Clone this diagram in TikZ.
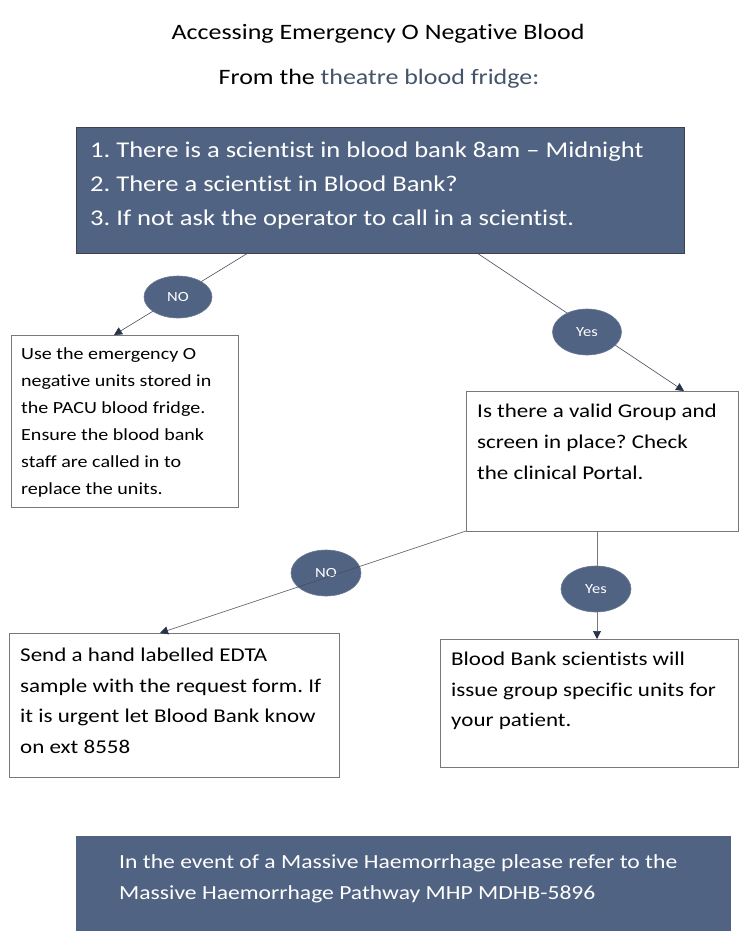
\documentclass[tikz,border=0pt]{standalone}
\usepackage{fontspec}
\setmainfont{Carlito}[FakeStretch=1.18, Ligatures={NoCommon}]
\usetikzlibrary{arrows.meta,shapes.geometric}
\frenchspacing
\definecolor{boxblue}{RGB}{81,99,130}
\definecolor{boxedge}{RGB}{60,66,78}
\definecolor{slatetext}{RGB}{68,84,106}
\definecolor{linecol}{RGB}{70,78,92}
\definecolor{tipcol}{RGB}{40,52,75}
\definecolor{grayedge}{RGB}{120,120,120}
\tikzset{
  darkbox/.style={draw=boxedge, line width=0.8pt, fill=boxblue, anchor=north west, inner sep=0pt},
  whitebox/.style={draw=grayedge, line width=0.7pt, fill=white, anchor=north west, inner sep=0pt},
  bodytext/.style={anchor=north west, align=left, inner sep=0pt},
  badge/.style={ellipse, fill=boxblue, draw=boxblue!85!white, line width=0.6pt, text=white, inner sep=0pt, font=\fontsize{14}{16}\selectfont},
  conn/.style={draw=linecol, line width=0.6pt, -{Triangle[width=8pt,length=8pt,fill=tipcol,color=tipcol]}},
}
\begin{document}
\frenchspacing
\begin{tikzpicture}[x=1pt,y=-1pt]
\useasboundingbox (0,0) rectangle (750,940);
\fill[white] (0,0) rectangle (750,940);

% titles
\node[font=\fontsize{22}{26}\selectfont] (title) at (378,34) {Accessing Emergency O Negative Blood};
\node[font=\fontsize{22}{26}\selectfont] (sub) at (379,79) {From the \textcolor{slatetext}{theatre blood fridge:}};

% top box
\node[darkbox, minimum width=608, minimum height=126] (top) at (76,127) {};
\node[bodytext, text=white, font=\fontsize{22.5}{34}\selectfont] (toptxt) at (90,142)
  {1. There is a scientist in blood bank 8am – Midnight\\
   2. There a scientist in Blood Bank?\\
   3. If not ask the operator to call in a scientist.};
\coordinate (topL) at (248,253);
\coordinate (topR) at (477,253);

% box 1
\node[whitebox, minimum width=227, minimum height=172] (b1) at (11,335) {};
\node[bodytext, font=\fontsize{17}{27}\selectfont] (b1txt) at (21,347)
  {Use the emergency O\\negative units stored in\\the PACU blood fridge.\\Ensure the blood bank\\staff are called in to\\replace the units.};

% box 2
\node[whitebox, minimum width=272, minimum height=140] (b2) at (466,391) {};
\node[bodytext, font=\fontsize{19.5}{31}\selectfont] (b2txt) at (477,404)
  {Is there a valid Group and\\screen in place? Check\\the clinical Portal.};
\coordinate (b2L) at (466,531);
\coordinate (b2M) at (597,531);

% box 3
\node[whitebox, minimum width=330, minimum height=144] (b3) at (9,633) {};
\node[bodytext, font=\fontsize{19.5}{30.5}\selectfont] (b3txt) at (20,648)
  {Send a hand labelled EDTA\\sample with the request form. If\\it is urgent let Blood Bank know\\on ext 8558};

% box 4
\node[whitebox, minimum width=298, minimum height=128] (b4) at (440,639) {};
\node[bodytext, font=\fontsize{19.5}{30.5}\selectfont] (b4txt) at (451,652)
  {Blood Bank scientists will\\issue group specific units for\\your patient.};

% connectors
\draw[conn] (topL) -- (114,335) coordinate (a1);
\node[badge, minimum width=68, minimum height=42] (no1) at (178,297) {NO};

\draw[conn] (topR) -- (684,391) coordinate (a2);
\node[badge, minimum width=69, minimum height=46] (yes1) at (587,332) {Yes};

\node[badge, minimum width=70, minimum height=46] (no2) at (326,573) {NO};
\draw[conn] (b2L) -- (160,633) coordinate (a3);

\draw[conn, draw=grayedge] (b2M) -- (597,639) coordinate (a4);
\node[badge, minimum width=70, minimum height=46] (yes2) at (596,589) {Yes};

% bottom box
\node[darkbox, draw=boxblue, minimum width=654, minimum height=94] (bot) at (76,836) {};
\node[bodytext, text=white, font=\fontsize{20}{31}\selectfont] (bottxt) at (119,854)
  {In the event of a Massive Haemorrhage please refer to the\\Massive Haemorrhage Pathway MHP MDHB-5896};
\end{tikzpicture}
\end{document}
